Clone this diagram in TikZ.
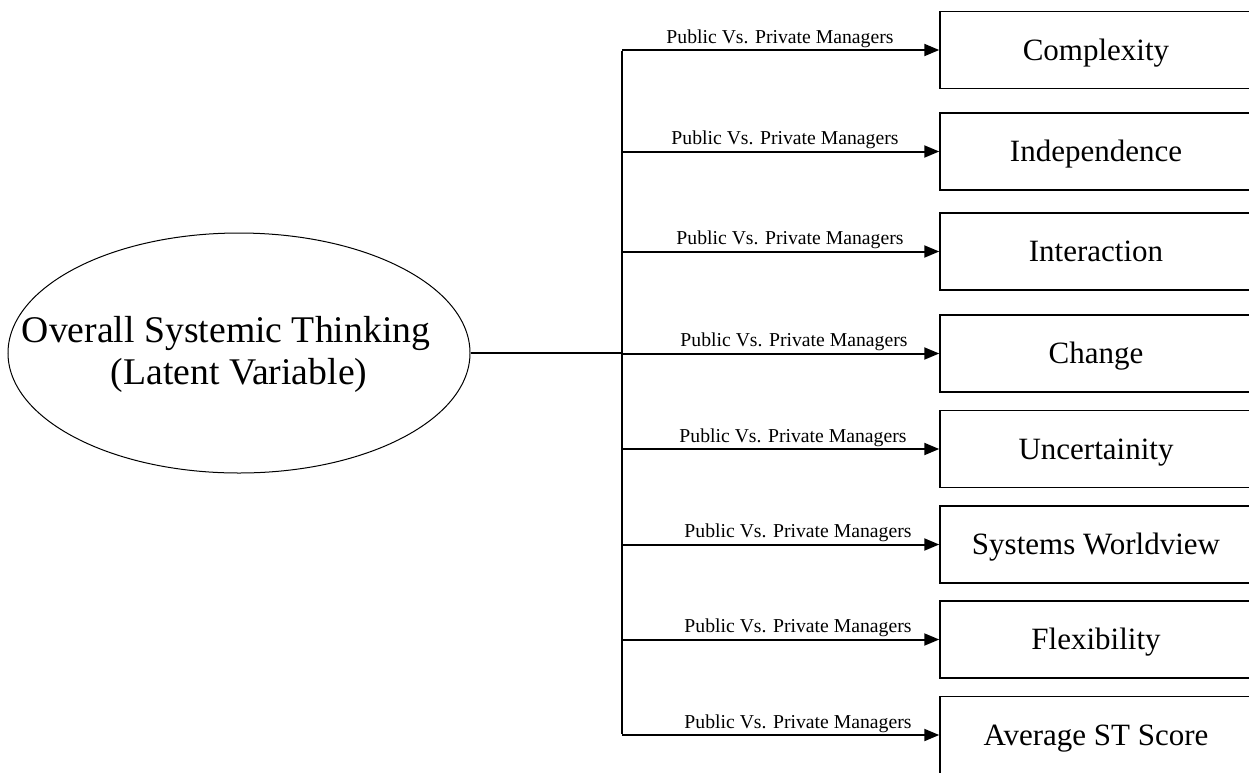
\documentclass[tikz,border=0pt]{standalone}
\usepackage{fontspec}
\setmainfont{Liberation Serif}
\usetikzlibrary{shapes.geometric,arrows.meta}

\tikzset{
  latent/.style={draw, ellipse, line width=1pt, inner sep=0pt,
    minimum width=462pt, minimum height=240pt},
  latenttext/.style={inner sep=0pt, align=center,
    font=\fontsize{37.7}{42}\selectfont},
  factor/.style={draw, rectangle, line width=1.5pt, inner sep=0pt,
    minimum width=312pt, minimum height=77pt,
    text height=20.5pt, text depth=0pt,
    font=\fontsize{31}{36}\selectfont},
  trunk/.style={line width=2pt},
  branch/.style={line width=2pt, -{Triangle[length=15pt,width=12pt]}},
  grouplabel/.style={anchor=base, inner sep=0pt,
    font=\fontsize{19.7}{22}\selectfont}
}

\begin{document}
\begin{tikzpicture}[x=1pt,y=-1pt]
  \clip (0,0) rectangle (1249,772);

  % latent variable
  \node[latent] (ost) at (239,353) {};
  \node[latenttext] (ostlabel) at (239,354)
    {Overall Systemic Thinking\hspace*{26pt}\\(Latent Variable)};

  % observed dimensions
  \node[factor] (f1) at (1096,50)    {Complexity};
  \node[factor] (f2) at (1096,151.5) {Independence};
  \node[factor] (f3) at (1096,251.5) {Interaction};
  \node[factor] (f4) at (1096,353.5) {Change};
  \node[factor] (f5) at (1096,449)   {Uncertainity};
  \node[factor] (f6) at (1096,544.5) {Systems Worldview};
  \node[factor] (f7) at (1096,639.5) {Flexibility};
  \node[factor] (f8) at (1096,735)   {Average ST Score};

  % trunk of the connector tree
  \coordinate (hub) at (622,353);
  \coordinate (b1) at (622,50);
  \coordinate (b2) at (622,151.5);
  \coordinate (b3) at (622,251.5);
  \coordinate (b4) at (622,353.5);
  \coordinate (b5) at (622,449);
  \coordinate (b6) at (622,544.5);
  \coordinate (b7) at (622,639.5);
  \coordinate (b8) at (622,735);

  \draw[trunk] (ost.east) -- (hub);
  \draw[trunk] ([yshift=-1pt]b1) -- ([yshift=1pt]b8);

  % branches with their labels
  \foreach \i/\cx in {1/780,2/785,3/790,4/794,5/793,6/798,7/798,8/798}{
    \draw[branch] (b\i) -- (f\i.west);
    \node[grouplabel] (l\i) at ([yshift=7pt]b\i -| \cx,0) {Public Vs. Private Managers};
  }
\end{tikzpicture}
\end{document}
